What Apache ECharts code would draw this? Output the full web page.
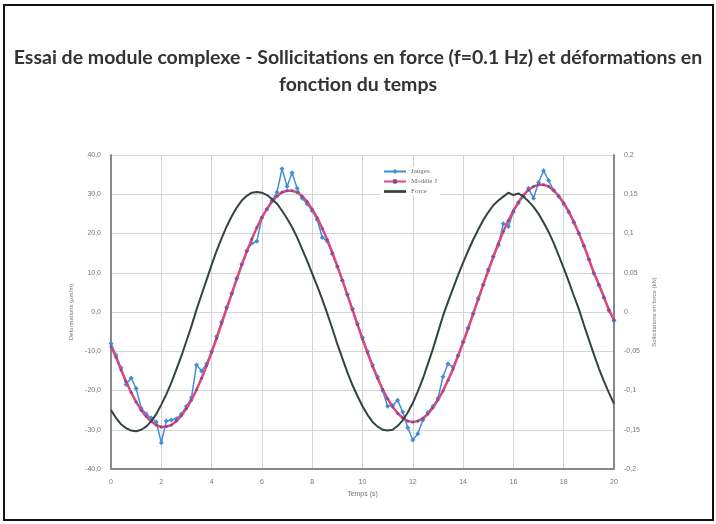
<!DOCTYPE html>
<html><head><meta charset="utf-8">
<script src="https://cdn.jsdelivr.net/npm/echarts@6/dist/echarts.min.js"></script>
<style>html,body{margin:0;padding:0;background:#fff}#c{width:716px;height:524px}</style>
</head><body><div id="c"></div>
<script>
const titleText = 'Essai de module complexe - Sollicitations en force (f=0.1 Hz) et déformations en\nfonction du temps';
const legendNames = ['Jauges', 'Modèle J', 'Force'];
const xName = 'Temps (s)';
const yLeftName = 'Déformations (µm/m)';
const yRightName = 'Sollicitations en force (kN)';

const time = [0,0.2,0.4,0.6,0.8,1,1.2,1.4,1.6,1.8,2,2.2,2.4,2.6,2.8,3,3.2,3.4,3.6,3.8,4,4.2,4.4,4.6,4.8,5,5.2,5.4,5.6,5.8,6,6.2,6.4,6.6,6.8,7,7.2,7.4,7.6,7.8,8,8.2,8.4,8.6,8.8,9,9.2,9.4,9.6,9.8,10,10.2,10.4,10.6,10.8,11,11.2,11.4,11.6,11.8,12,12.2,12.4,12.6,12.8,13,13.2,13.4,13.6,13.8,14,14.2,14.4,14.6,14.8,15,15.2,15.4,15.6,15.8,16,16.2,16.4,16.6,16.8,17,17.2,17.4,17.6,17.8,18,18.2,18.4,18.6,18.8,19,19.2,19.4,19.6,19.8,20];

const modele = [-8.8,-11.5,-14.8,-17.7,-20.5,-22.9,-25.0,-26.6,-27.9,-28.8,-29.3,-29.2,-28.8,-27.8,-26.4,-24.6,-22.4,-19.8,-16.9,-13.7,-10.3,-6.7,-2.9,0.9,4.6,8.4,12.0,15.4,18.6,21.5,24.1,26.3,28.1,29.5,30.5,30.9,30.9,30.5,29.5,28.1,26.2,24.0,21.3,18.4,15.1,11.7,8.1,4.3,0.6,-3.2,-6.9,-10.4,-13.8,-16.9,-19.7,-22.1,-24.2,-25.8,-27.0,-27.8,-28.0,-27.8,-27.1,-26.0,-24.4,-22.4,-20.1,-17.4,-14.5,-11.2,-7.8,-4.2,-0.5,3.2,6.9,10.5,14.0,17.4,20.5,23.3,25.8,28.0,29.8,31.1,32.0,32.4,32.4,32.0,31.0,29.6,27.8,25.6,23.0,20.1,17.0,13.5,10.0,7.0,3.8,0.5,-2.0];

const jauges = [-8.0,-11.0,-14.2,-18.5,-16.8,-19.5,-24.5,-26.0,-27.0,-28.0,-33.3,-27.8,-27.5,-27.2,-26.0,-24.0,-21.8,-13.5,-15.0,-13.2,-10.0,-6.2,-2.5,1.2,4.8,8.6,12.2,15.6,17.5,18.0,24.0,26.2,28.5,30.5,36.5,32.0,35.5,31.5,29.0,27.5,25.8,23.5,19.0,18.0,14.8,11.5,8.0,4.5,0.8,-3.0,-6.5,-10.0,-13.5,-16.5,-20.0,-24.0,-23.8,-22.5,-25.5,-29.5,-32.6,-31.0,-27.5,-25.6,-24.0,-22.0,-16.5,-13.2,-14.0,-11.0,-7.5,-4.0,-0.3,3.5,7.0,10.8,14.2,17.0,22.5,21.8,25.5,27.8,29.5,31.5,29.0,33.0,36.0,33.5,31.0,29.4,27.5,25.4,22.8,20.0,16.8,13.4,9.8,6.8,3.6,0.4,-2.2];

const force = [-0.125,-0.135,-0.143,-0.148,-0.151,-0.152,-0.150,-0.146,-0.139,-0.130,-0.118,-0.105,-0.090,-0.073,-0.056,-0.037,-0.018,0.003,0.022,0.041,0.060,0.078,0.094,0.109,0.122,0.133,0.142,0.148,0.152,0.153,0.152,0.149,0.144,0.138,0.129,0.119,0.108,0.095,0.080,0.065,0.049,0.033,0.016,-0.002,-0.021,-0.041,-0.059,-0.077,-0.093,-0.107,-0.120,-0.131,-0.140,-0.146,-0.150,-0.151,-0.150,-0.145,-0.138,-0.128,-0.116,-0.101,-0.085,-0.066,-0.047,-0.026,-0.005,0.013,0.030,0.047,0.063,0.078,0.092,0.105,0.117,0.127,0.136,0.142,0.147,0.152,0.149,0.151,0.147,0.141,0.134,0.125,0.114,0.102,0.088,0.072,0.056,0.039,0.021,0.004,-0.016,-0.035,-0.054,-0.072,-0.088,-0.103,-0.117];

const pairs = (ys) => time.map((t, i) => [t, ys[i]]);
const comma = (v, d) => (d === 0 ? String(v) : v.toFixed(d)).replace('.', ',');

const chart = echarts.init(document.getElementById('c'), null, {renderer: 'canvas'});
const axisLbl = {color: '#777', fontSize: 7, fontFamily: 'Liberation Sans'};
chart.setOption({
  animation: false,
  backgroundColor: '#fff',
  title: {
    text: titleText, left: 'center', top: 39,
    textStyle: {fontFamily: 'Lato', fontWeight: 'bold', fontSize: 19.5, color: '#333', lineHeight: 27}
  },
  graphic: [{type: 'rect', shape: {x: 4, y: 5, width: 709, height: 515}, style: {fill: 'none', stroke: '#111', lineWidth: 2}}],
  legend: {
    data: [
      {name: legendNames[0]},
      {name: legendNames[1]},
      {name: legendNames[2], icon: 'path://M0,0 L40,0 L40,5 L0,5 Z'}
    ],
    orient: 'vertical', left: 380, top: 167,
    itemWidth: 22, itemHeight: 6, itemGap: 3, backgroundColor: '#fff', padding: [1, 3],
    textStyle: {fontSize: 7, color: '#666', fontFamily: 'Liberation Serif'}
  },
  grid: {left: 111, right: 102, top: 155, bottom: 55},
  xAxis: {
    type: 'value', min: 0, max: 20, interval: 2,
    name: xName, nameLocation: 'middle', nameGap: 22,
    nameTextStyle: {color: '#777', fontSize: 7, fontFamily: 'Liberation Sans'},
    axisLine: {onZero: false, lineStyle: {color: '#888', width: 2}},
    axisTick: {show: false},
    axisLabel: Object.assign({margin: 10}, axisLbl),
    splitLine: {lineStyle: {color: '#d4d4d4', width: 1}}
  },
  yAxis: [{
    type: 'value', min: -40, max: 40, interval: 10,
    name: yLeftName, nameLocation: 'middle', nameGap: 24, nameRotate: 90,
    nameTextStyle: {color: '#777', fontSize: 6, fontFamily: 'Liberation Sans'},
    axisLine: {show: true, onZero: false, lineStyle: {color: '#888', width: 2}},
    axisTick: {show: false},
    axisLabel: Object.assign({margin: 10, formatter: v => comma(v, 1)}, axisLbl),
    splitLine: {lineStyle: {color: '#d4d4d4', width: 1}}
  }, {
    type: 'value', min: -0.2, max: 0.2, interval: 0.05, position: 'right',
    name: yRightName, nameLocation: 'middle', nameGap: 28, nameRotate: 90,
    nameTextStyle: {color: '#777', fontSize: 6, fontFamily: 'Liberation Sans'},
    axisLine: {show: true, onZero: false, lineStyle: {color: '#888', width: 2}},
    axisTick: {show: false},
    axisLabel: Object.assign({margin: 10, formatter: v => comma(Math.round(v * 100) / 100, 0)}, axisLbl),
    splitLine: {show: false}
  }],
  series: [{
    name: legendNames[0], type: 'line', yAxisIndex: 0, data: pairs(jauges),
    symbol: 'diamond', symbolSize: 5, z: 2,
    lineStyle: {color: '#3f8fd8', width: 1.5}, itemStyle: {color: '#3f8fd8'}
  }, {
    name: legendNames[1], type: 'line', yAxisIndex: 0, data: pairs(modele),
    symbol: 'circle', symbolSize: 3, z: 3,
    lineStyle: {color: '#e2457a', width: 2.5}, itemStyle: {color: '#7d4f91'}
  }, {
    name: legendNames[2], type: 'line', yAxisIndex: 1, data: pairs(force),
    symbol: 'none', z: 4,
    lineStyle: {color: '#33443b', width: 2}, itemStyle: {color: '#33443b'}
  }]
});
</script></body></html>
